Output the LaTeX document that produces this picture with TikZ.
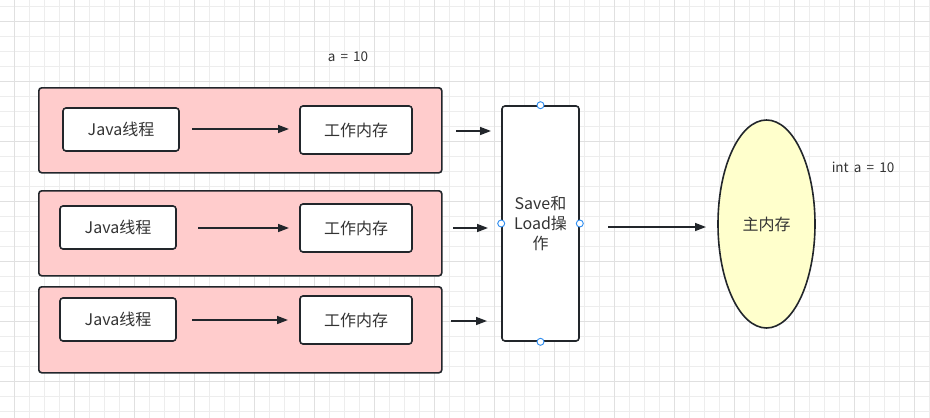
\documentclass[tikz,border=0pt]{standalone}
\usepackage{fontspec}
\setmainfont{Noto Sans CJK SC}
\usetikzlibrary{arrows.meta,shapes.geometric}
\definecolor{gridminor}{HTML}{EDEDED}
\definecolor{gridmajor}{HTML}{E0E0E0}
\definecolor{boxline}{HTML}{22262B}
\definecolor{pinkfill}{HTML}{FFCCCC}
\definecolor{yellowfill}{HTML}{FFFFCC}
\definecolor{txt}{HTML}{333333}
\definecolor{handle}{HTML}{2D8CF0}
\newcommand{\wsp}{\hspace{0.38em}}
\tikzset{
  outerbox/.style={draw=boxline, fill=pinkfill, line width=1.6pt, rounded corners=3pt},
  innerbox/.style={draw=boxline, fill=white, line width=1.6pt, rounded corners=3pt, text=txt, font=\fontsize{16}{19}\selectfont},
  arr/.style={draw=boxline, line width=1.5pt, -{Triangle[length=11pt,width=8pt]}},
  lbl/.style={text=txt, font=\fontsize{13.5}{16}\selectfont},
  hnd/.style={circle, draw=handle, fill=white, line width=0.9pt, minimum size=7pt, inner sep=0pt},
}
\begin{document}
\begin{tikzpicture}[x=1pt,y=-1pt]
\useasboundingbox (0,0) rectangle (930,418);
\fill[white] (0,0) rectangle (930,418);
% grid
\foreach \gx in {14,29,...,929} {\draw[gridminor, line width=0.8pt] (\gx,0) -- (\gx,418);}
\foreach \gy in {6,21,...,417} {\draw[gridminor, line width=0.8pt] (0,\gy) -- (930,\gy);}
\foreach \gx in {14,74,...,929} {\draw[gridmajor, line width=0.9pt] (\gx,0) -- (\gx,418);}
\foreach \gy in {21,81,...,417} {\draw[gridmajor, line width=0.9pt] (0,\gy) -- (930,\gy);}
% outer boxes
\node[outerbox, minimum width=403pt, minimum height=85pt, anchor=north west] (o1) at (38,87) {};
\node[outerbox, minimum width=403pt, minimum height=85pt, anchor=north west] (o2) at (38,190) {};
\node[outerbox, minimum width=403pt, minimum height=86pt, anchor=north west] (o3) at (38,286) {};
% inner boxes
\node[innerbox, minimum width=116pt, minimum height=43pt] (j1) at (121,129.5) {Java线程};
\node[innerbox, minimum width=112pt, minimum height=48pt] (w1) at (356,130) {工作内存};
\node[innerbox, minimum width=116pt, minimum height=43pt] (j2) at (118,227.5) {Java线程};
\node[innerbox, minimum width=112pt, minimum height=48pt] (w2) at (356,228) {工作内存};
\node[innerbox, minimum width=116pt, minimum height=43pt] (j3) at (118,319.5) {Java线程};
\node[innerbox, minimum width=112pt, minimum height=48pt] (w3) at (356,320) {工作内存};
% inner arrows
\coordinate (s1) at (192,129); \coordinate (e1) at (289,129);
\coordinate (s2) at (198,228); \coordinate (e2) at (289,228);
\coordinate (s3) at (192,320); \coordinate (e3) at (288,320);
\draw[arr] (s1) -- (e1);
\draw[arr] (s2) -- (e2);
\draw[arr] (s3) -- (e3);
% save/load box
\node[innerbox, minimum width=77pt, minimum height=235pt, align=center, font=\fontsize{16}{20}\selectfont] (sl) at (540.5,223.5) {Save和\\Load操\\作};
% small arrows
\coordinate (a1) at (456,131); \coordinate (b1) at (491,131);
\coordinate (a2) at (453,228); \coordinate (b2) at (488,228);
\coordinate (a3) at (451,321); \coordinate (b3) at (487,321);
\draw[arr] (a1) -- (b1);
\draw[arr] (a2) -- (b2);
\draw[arr] (a3) -- (b3);
% handles
\node[hnd] (h1) at (sl.north) {};
\node[hnd] (h2) at (sl.south) {};
\node[hnd] (h3) at (sl.west) {};
\node[hnd] (h4) at (sl.east) {};
% main memory
\node[ellipse, draw=boxline, fill=yellowfill, line width=1.6pt, minimum width=97pt, minimum height=208pt, inner sep=0pt, text=txt, font=\fontsize{16}{19}\selectfont] (mm) at (766.5,224) {主内存};
\coordinate (m1) at (608,227);
\coordinate (m2) at (706,227);
\draw[arr] (m1) -- (m2);
% labels
\node[lbl] (la) at (348,57) {a\wsp=\wsp10};
\node[lbl] (lb) at (863,167) {int\wsp a\wsp=\wsp10};
\end{tikzpicture}
\end{document}
